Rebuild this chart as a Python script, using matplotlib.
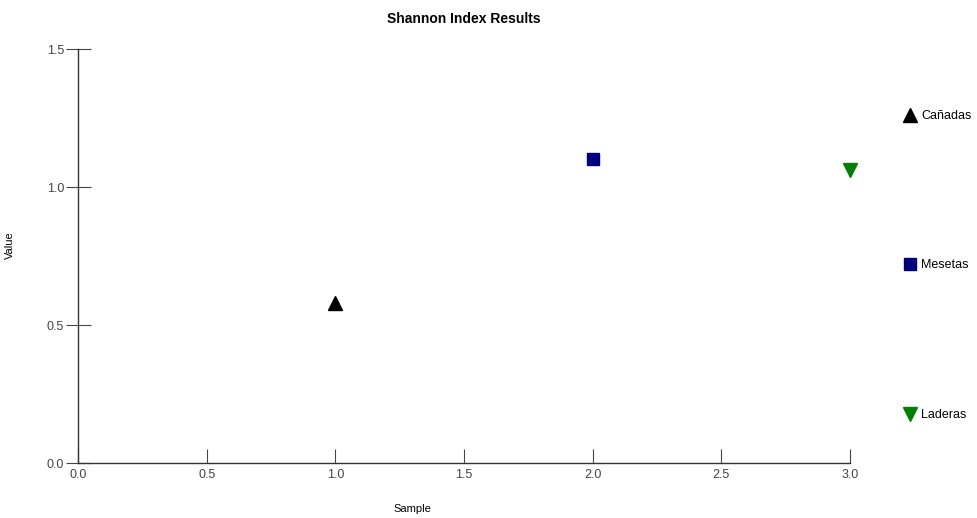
import matplotlib
matplotlib.use("Agg")
import matplotlib.pyplot as plt

samples = [1.0, 2.0, 3.0]
values = [0.58, 1.10, 1.06]
labels = ["Cañadas", "Mesetas", "Laderas"]
markers = ["^", "s", "v"]
colors = ["#000000", "#00007f", "#007f00"]
xticks = [0.0, 0.5, 1.0, 1.5, 2.0, 2.5, 3.0]
yticks = [0.0, 0.5, 1.0, 1.5]

plt.rcParams['font.family'] = ['Liberation Sans', 'DejaVu Sans']

fig = plt.figure(figsize=(9.78, 5.18), dpi=100)
ax = fig.add_axes([78/978, 1-463/518, 772/978, 414/518])

handles = []
for x, y, lab, m, c in zip(samples, values, labels, markers, colors):
    ms = 9 if m == "s" else 10
    h, = ax.plot([x], [y], linestyle="none", marker=m, color=c, markersize=ms,
                 markeredgecolor=c, label=lab, clip_on=False)
    handles.append(h)

ax.set_xlim(0, 3)
ax.set_ylim(0, 1.5)
ax.set_xticks(xticks)
ax.set_yticks(yticks)
ax.set_xticklabels([f"{t:.1f}" for t in xticks])
ax.set_yticklabels([f"{t:.1f}" for t in yticks])
for s in ["top", "right"]:
    ax.spines[s].set_visible(False)
for s in ["left", "bottom"]:
    ax.spines[s].set_color("#333333")
    ax.spines[s].set_linewidth(1.0)
ax.tick_params(axis="x", direction="in", length=10, width=0.8, color="#444444",
               labelsize=9, labelcolor="#444444", pad=4)
ax.tick_params(axis="y", direction="inout", length=18, width=0.8, color="#444444",
               labelsize=9, labelcolor="#444444", pad=1)

ax.set_title("Shannon Index Results", fontsize=10, fontweight="bold", pad=19)
ax.set_xlabel("Sample", fontsize=8)
ax.set_ylabel("Value", fontsize=8)
ax.xaxis.set_label_coords((412-78)/772, -41/414)
ax.yaxis.set_label_coords((15-78)/772, (463-245)/414)

leg = fig.legend(handles=handles, labels=labels, loc="upper left",
                 bbox_to_anchor=(904/978, 1-110/518), frameon=False,
                 fontsize=9, handlelength=1.0, handletextpad=0.4,
                 borderpad=0, borderaxespad=0, labelspacing=11.0)

fig.savefig("out.png", dpi=100)
